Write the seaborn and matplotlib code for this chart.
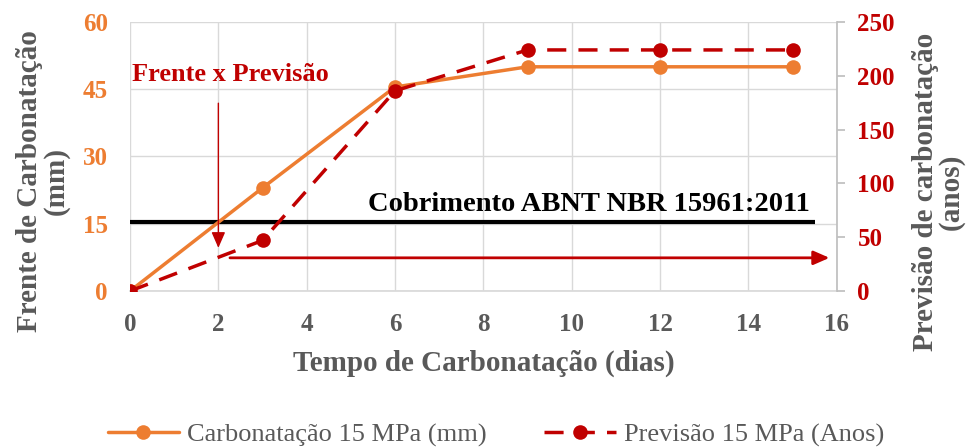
import matplotlib
matplotlib.use("Agg")
import matplotlib.pyplot as plt
import seaborn as sns
import pandas as pd

dias = [0, 3, 6, 9, 12, 15]
carbonatacao_mm = [0, 23, 45.5, 50, 50, 50]
previsao_anos = [0, 47, 186, 224, 224, 224]
cobrimento_mm = 15.5
x_ticks = [0, 2, 4, 6, 8, 10, 12, 14, 16]
left_ticks = [0, 15, 30, 45, 60]
right_ticks = [0, 50, 100, 150, 200, 250]

sns.set_theme(style="white")
plt.rcParams['font.family'] = ['Liberation Serif', 'DejaVu Serif']

ORANGE = "#ED7D31"
RED = "#C00000"
GREY = "#595959"
GRID = "#D9D9D9"

df = pd.DataFrame({"dias": dias, "mm": carbonatacao_mm, "anos": previsao_anos})

fig = plt.figure(figsize=(9.74, 4.48), dpi=100)
ax = fig.add_axes([0.1335, 0.3504, 0.7255, 0.6006])
ax2 = ax.twinx()

ax.set_xlim(0, 16)
ax.set_ylim(0, 60)
ax2.set_ylim(0, 250)
ax.set_xticks(x_ticks)
ax.set_yticks(left_ticks)
ax2.set_yticks(right_ticks)

ax.grid(True, color=GRID, linewidth=1)
ax.set_axisbelow(True)
for sp in ["top", "left", "bottom", "right"]:
    ax.spines[sp].set_visible(False)
    ax2.spines[sp].set_visible(False)
ax.spines["bottom"].set_visible(True)
ax.spines["bottom"].set_color(GRID)
ax2.spines["right"].set_visible(True)
ax2.spines["right"].set_color("#BFBFBF")
ax2.tick_params(axis="y", length=6, color="#BFBFBF", pad=9)
ax.tick_params(axis="y", length=0, pad=16)
ax.tick_params(axis="x", length=0, pad=16)

sns.lineplot(data=df, x="dias", y="mm", ax=ax, color=ORANGE, linewidth=2.5,
             marker="o", markersize=10.5, markeredgewidth=0,
             label="Carbonatação 15 MPa (mm)", legend=False)
sns.lineplot(data=df, x="dias", y="anos", ax=ax2, color=RED, linewidth=2.5,
             linestyle=(0, (5.5, 3.5)), marker="o", markersize=10.5, markeredgewidth=0,
             label="Previsão 15 MPa (Anos)", legend=False)

ax.hlines(cobrimento_mm, 0, 15.5, color="black", linewidth=3, zorder=1)
ax.text(10.4, 19.3, "Cobrimento ABNT NBR 15961:2011", ha="center", va="center",
        fontsize=20.5, fontweight="bold", color="black")
ax.text(0.05, 48.2, "Frente x Previsão", ha="left", va="center",
        fontsize=19, fontweight="bold", color=RED)
ax.annotate("", xy=(2, 9.0), xytext=(2, 42.5),
            arrowprops=dict(arrowstyle="-|>,head_length=0.8,head_width=0.35",
                            color=RED, lw=1.0))
ax.annotate("", xy=(15.9, 7.4), xytext=(2.2, 7.4),
            arrowprops=dict(arrowstyle="-|>,head_length=0.8,head_width=0.35",
                            color=RED, lw=2.0))

ax.set_xlabel("Tempo de Carbonatação (dias)", fontsize=21, fontweight="bold", color=GREY, labelpad=10)
ax.set_ylabel("Frente de Carbonatação\n(mm)", fontsize=21, fontweight="bold", color=GREY,
              linespacing=0.95)
ax2.set_ylabel("Previsão de carbonatação\n(anos)", fontsize=21, fontweight="bold", color=GREY,
               linespacing=0.95)
ax.yaxis.set_label_coords(-0.086, 0.41)
ax2.yaxis.set_label_coords(1.106, 0.37)

for t in ax.get_yticklabels():
    t.set_color(ORANGE); t.set_fontweight("bold"); t.set_fontsize(18)
for t in ax2.get_yticklabels():
    t.set_color(RED); t.set_fontweight("bold"); t.set_fontsize(18)
for t in ax.get_xticklabels():
    t.set_color(GREY); t.set_fontweight("bold"); t.set_fontsize(18)

h1, lab1 = ax.get_legend_handles_labels()
h2, lab2 = ax2.get_legend_handles_labels()
fig.legend(h1 + h2, lab1 + lab2, loc="center", bbox_to_anchor=(0.509, 0.03), ncol=2,
           frameon=False, fontsize=19, labelcolor=GREY, columnspacing=2.2,
           handlelength=2.7, handletextpad=0.3)

fig.savefig("out.png", dpi=100)
